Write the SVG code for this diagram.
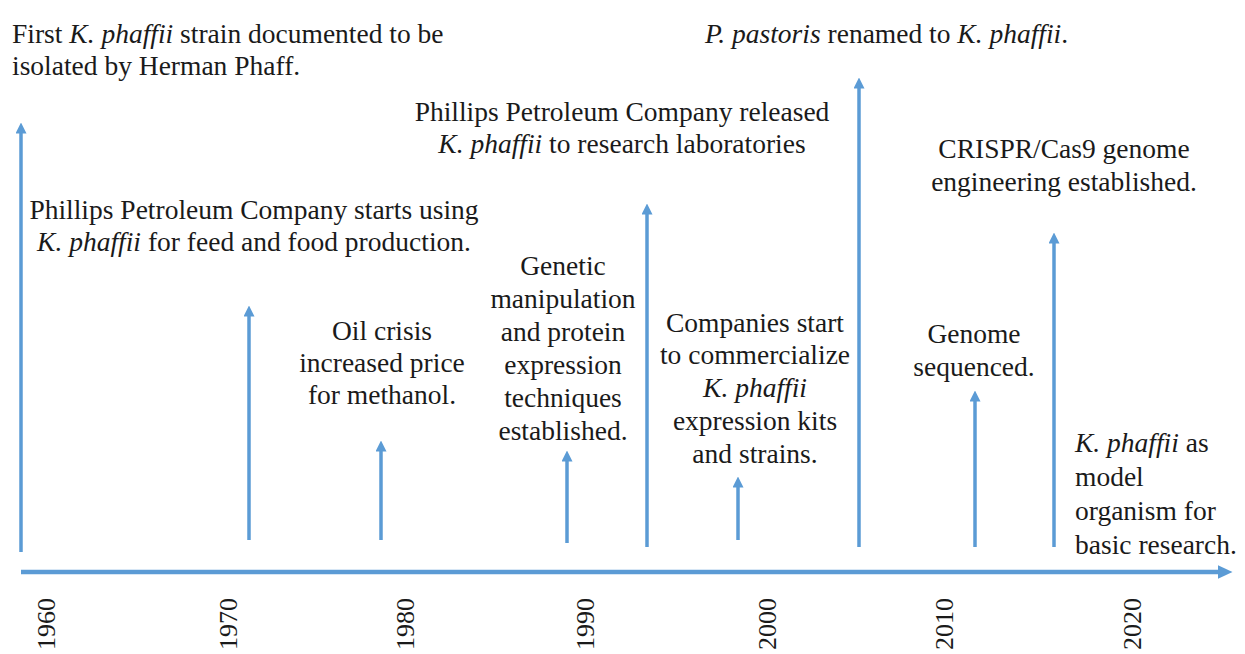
<svg xmlns="http://www.w3.org/2000/svg" width="1245" height="654" viewBox="0 0 1245 654">
<defs>
<marker id="ah" markerUnits="userSpaceOnUse" markerWidth="11" markerHeight="11" viewBox="0 0 11 11" refX="0.5" refY="5.5" orient="auto">
<path d="M0,0 L11,5.5 L0,11 Z" fill="#5b9bd5"/>
</marker>
<marker id="ah2" markerUnits="userSpaceOnUse" markerWidth="15" markerHeight="15" viewBox="0 0 15 15" refX="0.5" refY="7.5" orient="auto">
<path d="M0,0.5 L15,7.5 L0,14.5 Z" fill="#5b9bd5"/>
</marker>
</defs>
<rect width="1245" height="654" fill="#fff"/>
<g id="connectors" stroke="#5b9bd5" fill="none" stroke-width="3.5">
<line stroke-width="4.5" x1="21" y1="572" x2="1218" y2="572" marker-end="url(#ah2)"/>
<line x1="21" y1="552" x2="21" y2="133" marker-end="url(#ah)"/>
<line x1="249" y1="540" x2="249" y2="316" marker-end="url(#ah)"/>
<line x1="381" y1="540" x2="381" y2="451" marker-end="url(#ah)"/>
<line x1="567" y1="543" x2="567" y2="461" marker-end="url(#ah)"/>
<line x1="647" y1="547" x2="647" y2="214" marker-end="url(#ah)"/>
<line x1="738" y1="540" x2="738" y2="487" marker-end="url(#ah)"/>
<line x1="859" y1="547" x2="859" y2="88" marker-end="url(#ah)"/>
<line x1="975" y1="547" x2="975" y2="401" marker-end="url(#ah)"/>
<line x1="1054" y1="547" x2="1054" y2="243" marker-end="url(#ah)"/>
</g>
<g id="e1960">
<text font-family="Tinos, Liberation Serif, serif" font-size="27.5" fill="#1a1a1a" x="12" y="43">First <tspan font-style="italic">K. phaffii</tspan> strain documented to be</text>
<text font-family="Tinos, Liberation Serif, serif" font-size="27.5" fill="#1a1a1a" x="12" y="75">isolated by Herman Phaff.</text>
</g>
<g id="e1970">
<text font-family="Tinos, Liberation Serif, serif" font-size="27.5" fill="#1a1a1a" text-anchor="middle" x="254" y="219">Phillips Petroleum Company starts using</text>
<text font-family="Tinos, Liberation Serif, serif" font-size="27.5" fill="#1a1a1a" text-anchor="middle" x="254" y="251"><tspan font-style="italic">K. phaffii</tspan> for feed and food production.</text>
</g>
<g id="e1980">
<text font-family="Tinos, Liberation Serif, serif" font-size="27.5" fill="#1a1a1a" text-anchor="middle" x="382" y="340">Oil crisis</text>
<text font-family="Tinos, Liberation Serif, serif" font-size="27.5" fill="#1a1a1a" text-anchor="middle" x="382" y="372">increased price</text>
<text font-family="Tinos, Liberation Serif, serif" font-size="27.5" fill="#1a1a1a" text-anchor="middle" x="382" y="404">for methanol.</text>
</g>
<g id="e1990">
<text font-family="Tinos, Liberation Serif, serif" font-size="27.5" fill="#1a1a1a" text-anchor="middle" x="563" y="275">Genetic</text>
<text font-family="Tinos, Liberation Serif, serif" font-size="27.5" fill="#1a1a1a" text-anchor="middle" x="563" y="308">manipulation</text>
<text font-family="Tinos, Liberation Serif, serif" font-size="27.5" fill="#1a1a1a" text-anchor="middle" x="563" y="341">and protein</text>
<text font-family="Tinos, Liberation Serif, serif" font-size="27.5" fill="#1a1a1a" text-anchor="middle" x="563" y="374">expression</text>
<text font-family="Tinos, Liberation Serif, serif" font-size="27.5" fill="#1a1a1a" text-anchor="middle" x="563" y="407">techniques</text>
<text font-family="Tinos, Liberation Serif, serif" font-size="27.5" fill="#1a1a1a" text-anchor="middle" x="563" y="440">established.</text>
</g>
<g id="e1993">
<text font-family="Tinos, Liberation Serif, serif" font-size="27.5" fill="#1a1a1a" text-anchor="middle" x="622" y="121">Phillips Petroleum Company released</text>
<text font-family="Tinos, Liberation Serif, serif" font-size="27.5" fill="#1a1a1a" text-anchor="middle" x="622" y="153"><tspan font-style="italic">K. phaffii</tspan> to research laboratories</text>
</g>
<g id="e2000">
<text font-family="Tinos, Liberation Serif, serif" font-size="27.5" fill="#1a1a1a" text-anchor="middle" x="755" y="332">Companies start</text>
<text font-family="Tinos, Liberation Serif, serif" font-size="27.5" fill="#1a1a1a" text-anchor="middle" x="755" y="364">to commercialize</text>
<text font-family="Tinos, Liberation Serif, serif" font-size="27.5" fill="#1a1a1a" text-anchor="middle" font-style="italic" x="755" y="397">K. phaffii</text>
<text font-family="Tinos, Liberation Serif, serif" font-size="27.5" fill="#1a1a1a" text-anchor="middle" x="755" y="430">expression kits</text>
<text font-family="Tinos, Liberation Serif, serif" font-size="27.5" fill="#1a1a1a" text-anchor="middle" x="755" y="463">and strains.</text>
</g>
<g id="e2005">
<text font-family="Tinos, Liberation Serif, serif" font-size="27.5" fill="#1a1a1a" x="705" y="43"><tspan font-style="italic">P. pastoris</tspan> renamed to <tspan font-style="italic">K. phaffii</tspan>.</text>
</g>
<g id="e2010">
<text font-family="Tinos, Liberation Serif, serif" font-size="27.5" fill="#1a1a1a" text-anchor="middle" x="974" y="343">Genome</text>
<text font-family="Tinos, Liberation Serif, serif" font-size="27.5" fill="#1a1a1a" text-anchor="middle" x="974" y="376">sequenced.</text>
</g>
<g id="e2015">
<text font-family="Tinos, Liberation Serif, serif" font-size="27.5" fill="#1a1a1a" text-anchor="middle" x="1064" y="158">CRISPR/Cas9 genome</text>
<text font-family="Tinos, Liberation Serif, serif" font-size="27.5" fill="#1a1a1a" text-anchor="middle" x="1064" y="191">engineering established.</text>
</g>
<g id="e2020">
<text font-family="Tinos, Liberation Serif, serif" font-size="27.5" fill="#1a1a1a" x="1075" y="452"><tspan font-style="italic">K. phaffii</tspan> as</text>
<text font-family="Tinos, Liberation Serif, serif" font-size="27.5" fill="#1a1a1a" x="1075" y="486">model</text>
<text font-family="Tinos, Liberation Serif, serif" font-size="27.5" fill="#1a1a1a" x="1075" y="520">organism for</text>
<text font-family="Tinos, Liberation Serif, serif" font-size="27.5" fill="#1a1a1a" x="1075" y="554">basic research.</text>
</g>
<g id="years">
<text font-family="Tinos, Liberation Serif, serif" font-size="26" fill="#1a1a1a" transform="translate(55,650) rotate(-90)">1960</text>
<text font-family="Tinos, Liberation Serif, serif" font-size="26" fill="#1a1a1a" transform="translate(237,650) rotate(-90)">1970</text>
<text font-family="Tinos, Liberation Serif, serif" font-size="26" fill="#1a1a1a" transform="translate(414,650) rotate(-90)">1980</text>
<text font-family="Tinos, Liberation Serif, serif" font-size="26" fill="#1a1a1a" transform="translate(594,650) rotate(-90)">1990</text>
<text font-family="Tinos, Liberation Serif, serif" font-size="26" fill="#1a1a1a" transform="translate(776,650) rotate(-90)">2000</text>
<text font-family="Tinos, Liberation Serif, serif" font-size="26" fill="#1a1a1a" transform="translate(953,650) rotate(-90)">2010</text>
<text font-family="Tinos, Liberation Serif, serif" font-size="26" fill="#1a1a1a" transform="translate(1141,650) rotate(-90)">2020</text>
</g>
</svg>
